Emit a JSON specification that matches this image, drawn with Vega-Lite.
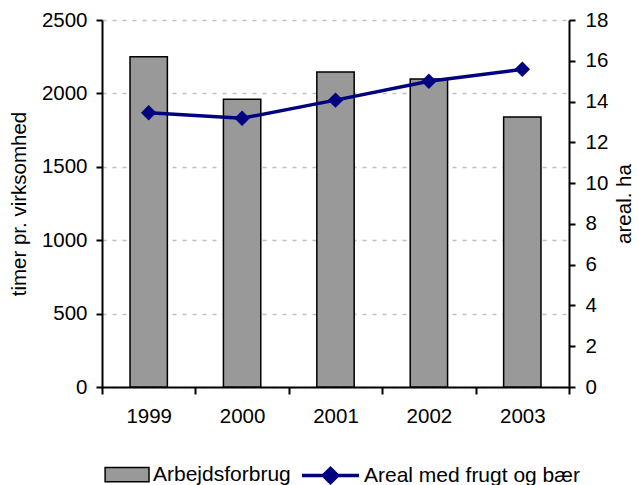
{
  "$schema": "https://vega.github.io/schema/vega-lite/v6.json",
  "width": 467,
  "height": 367,
  "autosize": "none",
  "padding": {"left": 102, "top": 20, "right": 70, "bottom": 98},
  "background": "white",
  "data": {
    "values": [
      {"year": "1999", "arb": 2250, "areal": 13.45},
      {"year": "2000", "arb": 1960, "areal": 13.18},
      {"year": "2001", "arb": 2145, "areal": 14.07},
      {"year": "2002", "arb": 2098, "areal": 15.0},
      {"year": "2003", "arb": 1840, "areal": 15.58}
    ]
  },
  "encoding": {
    "x": {
      "field": "year",
      "type": "ordinal",
      "scale": {"paddingInner": 0, "paddingOuter": 0},
      "axis": {
        "title": null,
        "labelAngle": 0,
        "tickBand": "extent",
        "tickSize": 7,
        "labelPadding": 12,
        "grid": false,
        "encode": {"ticks": {"update": {"y": {"value": -4}}}}
      }
    }
  },
  "layer": [
    {
      "mark": {"type": "bar", "width": {"band": 0.4}, "stroke": "black", "strokeWidth": 1.5},
      "encoding": {
        "y": {
          "field": "arb",
          "type": "quantitative",
          "scale": {"domain": [0, 2500], "nice": false},
          "axis": {
            "title": "timer pr. virksomhed",
            "values": [0, 500, 1000, 1500, 2000, 2500],
            "format": "d",
            "grid": true,
            "gridColor": "#c0c0c0",
            "gridDash": [4, 6],
            "gridWidth": 1.5,
            "tickSize": 6,
            "labelPadding": 9,
            "titlePadding": 12,
            "encode": {"ticks": {"update": {"x": {"value": 8}}}}
          }
        },
        "fill": {
          "datum": "Arbejdsforbrug",
          "scale": {"range": ["#999999"]},
          "legend": {
            "title": null,
            "orient": "bottom",
            "symbolType": "M-0.54,-0.25H1V0.25H-0.54Z",
            "symbolSize": 3249,
            "symbolStrokeColor": "black",
            "symbolStrokeWidth": 1.5,
            "labelOffset": 3,
            "offset": 18
          }
        }
      }
    },
    {
      "layer": [
        {
          "mark": {"type": "line", "strokeWidth": 3.5},
          "encoding": {
            "y": {
              "field": "areal",
              "type": "quantitative",
              "scale": {"domain": [0, 18], "nice": false},
              "axis": {
                "orient": "right",
                "title": "areal. ha",
                "values": [0, 2, 4, 6, 8, 10, 12, 14, 16, 18],
                "grid": false,
                "tickSize": 6,
                "labelPadding": 10,
                "titleAngle": 270,
                "titleBaseline": "top",
                "titlePadding": 7,
                "encode": {"ticks": {"update": {"x": {"value": -7}}}}
              }
            },
            "stroke": {
              "datum": "Areal med frugt og bær",
              "scale": {"range": ["#000080"]},
              "legend": {
                "title": null,
                "orient": "bottom",
                "symbolType": "M-1,0H1M-0.25,0L0,-0.25L0.25,0L0,0.25Z",
                "symbolSize": 3249,
                "symbolStrokeWidth": 3.5,
                "symbolStrokeColor": "#000080",
                "symbolFillColor": "#000080",
                "labelOffset": 3,
                "offset": 18,
                "encode": {"symbols": {"update": {"fill": {"value": "#000080"}, "stroke": {"value": "#000080"}}}}
              }
            }
          }
        },
        {
          "mark": {"type": "point", "shape": "diamond", "filled": true, "size": 240, "color": "#000080", "opacity": 1},
          "encoding": {
            "y": {"field": "areal", "type": "quantitative"}
          }
        }
      ]
    }
  ],
  "resolve": {"scale": {"y": "independent"}},
  "config": {
    "view": {"stroke": null},
    "font": "Liberation Sans",
    "axis": {
      "labelFont": "Liberation Sans",
      "labelFontSize": 20.5,
      "labelColor": "black",
      "titleFont": "Liberation Sans",
      "titleFontSize": 20.5,
      "titleFontWeight": "normal",
      "titleColor": "black",
      "domainColor": "black",
      "domainWidth": 2,
      "tickColor": "black",
      "tickWidth": 2
    },
    "legend": {
      "labelFont": "Liberation Sans",
      "labelFontSize": 21,
      "labelColor": "black",
      "labelLimit": 400,
      "layout": {"bottom": {"anchor": "middle", "direction": "horizontal", "margin": 9}}
    }
  }
}
